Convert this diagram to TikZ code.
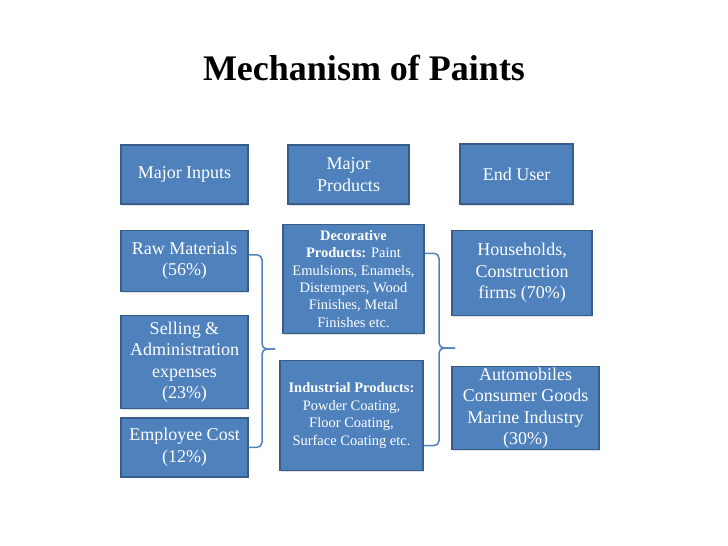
\documentclass[tikz,border=0pt]{standalone}
\usepackage{fontspec}
\setmainfont{Liberation Serif}
\usetikzlibrary{positioning, shadows}
\definecolor{boxblue}{HTML}{4F81BD}
\definecolor{boxedge}{HTML}{385D8A}
\tikzset{
  card/.style = {rectangle, draw=boxedge, line width=1.3pt, fill=boxblue, text=white, align=center, inner sep=0pt, font=\fontsize{18}{21.6}\selectfont, drop shadow={shadow xshift=1pt, shadow yshift=-1.5pt, opacity=0.25}},
  smallcard/.style = {card, font=\fontsize{14.5}{17.4}\selectfont},
  brace/.style = {draw=boxblue, line width=1.5pt, rounded corners=5pt}
}

\begin{document}
\begin{tikzpicture}[x=1pt, y=-1pt]
\useasboundingbox (0,0) rectangle (728,546);

% Title
\node[anchor=base, font=\fontsize{36}{43}\selectfont\bfseries] (title) at (364,80) {Mechanism of Paints};

% Column headers
\node[card, minimum width=127pt, minimum height=59pt] (inputs) at (184.5,174.5) {Major Inputs};
\node[card, minimum width=121pt, minimum height=59pt] (prod) at (348.5,174.5) {Major\\Products};
\node[card, minimum width=113pt, minimum height=60pt] (user) at (516.5,174) {End User};

% Inputs column
\node[card, minimum width=127pt, minimum height=61pt, below=25pt of inputs] (raw) {Raw Materials\\(56\%)};
\node[card, minimum width=127pt, minimum height=93pt, below=23pt of raw] (sell) {Selling \&\\Administration\\expenses\\(23\%)};
\node[card, minimum width=127pt, minimum height=59pt, below=8pt of sell] (emp) {Employee Cost\\(12\%)};

% Products column
\node[smallcard, minimum width=141pt, minimum height=109pt, below=19pt of prod, xshift=5pt] (dec) {\textbf{Decorative}\\\textbf{Products:} Paint\\Emulsions, Enamels,\\Distempers, Wood\\Finishes, Metal\\Finishes etc.};
\node[smallcard, minimum width=143pt, minimum height=110pt, below=26pt of dec, xshift=-2pt] (ind) {\textbf{Industrial Products:}\\Powder Coating,\\Floor Coating,\\Surface Coating etc.};

% End user column
\node[card, minimum width=140pt, minimum height=85pt, below=25pt of user, xshift=5.5pt] (house) {Households,\\Construction\\firms (70\%)};
\node[card, minimum width=147pt, minimum height=83pt, inner ysep=-1pt, below=50pt of house, xshift=3.5pt] (auto) {Automobiles\\Consumer Goods\\Marine Industry\\(30\%)};

% Braces
\coordinate (tipin) at (275,349);
\coordinate (tipprod) at (455,348);

\draw[brace] ([yshift=6pt]raw.east) -| ([xshift=-13pt]tipin) -- (tipin);
\draw[brace] (tipin) -- ([xshift=-13pt]tipin) |- (emp.east);

\draw[brace] ([yshift=25.5pt]dec.east) -| ([xshift=-16pt]tipprod) -- (tipprod);
\draw[brace] (tipprod) -- ([xshift=-16pt]tipprod) |- ([yshift=-30pt]ind.east);

\end{tikzpicture}
\end{document}
